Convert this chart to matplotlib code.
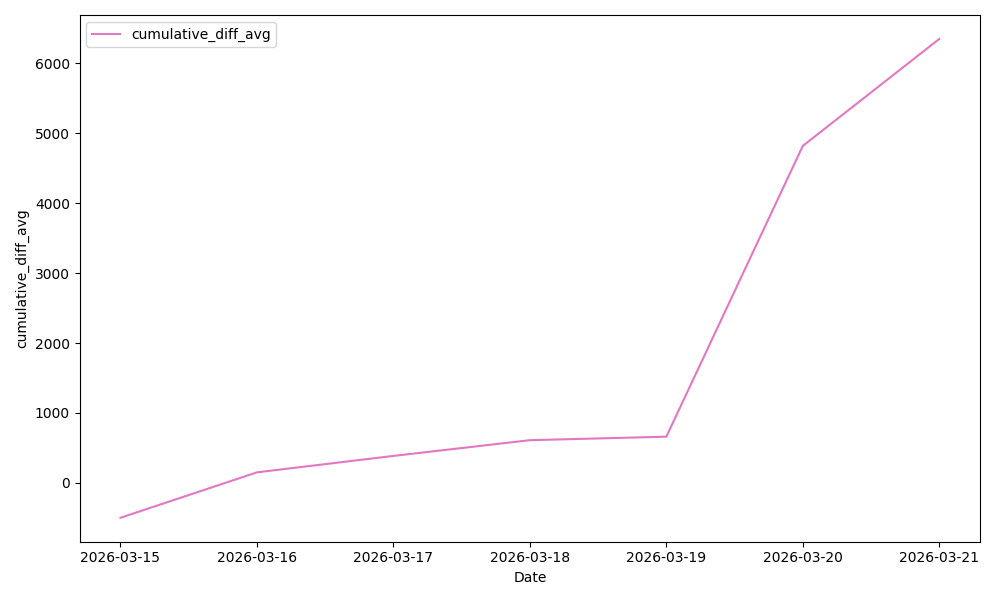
import pandas as pd
import matplotlib
matplotlib.use("Agg")
import matplotlib.pyplot as plt
import matplotlib.dates as mdates

# values
dates = ["2026-03-15", "2026-03-16", "2026-03-17", "2026-03-18",
         "2026-03-19", "2026-03-20", "2026-03-21"]
cumulative_diff_avg = [-500, 150, 385, 610, 660, 4820, 6350]

df = pd.DataFrame({"Date": pd.to_datetime(dates),
                   "cumulative_diff_avg": cumulative_diff_avg})

fig, ax = plt.subplots(figsize=(10, 6), dpi=100)
ax.plot(df["Date"], df["cumulative_diff_avg"], color="tab:pink",
        label="cumulative_diff_avg")
ax.xaxis.set_major_locator(mdates.DayLocator())
ax.xaxis.set_major_formatter(mdates.DateFormatter("%Y-%m-%d"))
ax.set_xlabel("Date")
ax.set_ylabel("cumulative_diff_avg")
ax.legend(loc="upper left")
plt.tight_layout()
plt.savefig("out.png")
